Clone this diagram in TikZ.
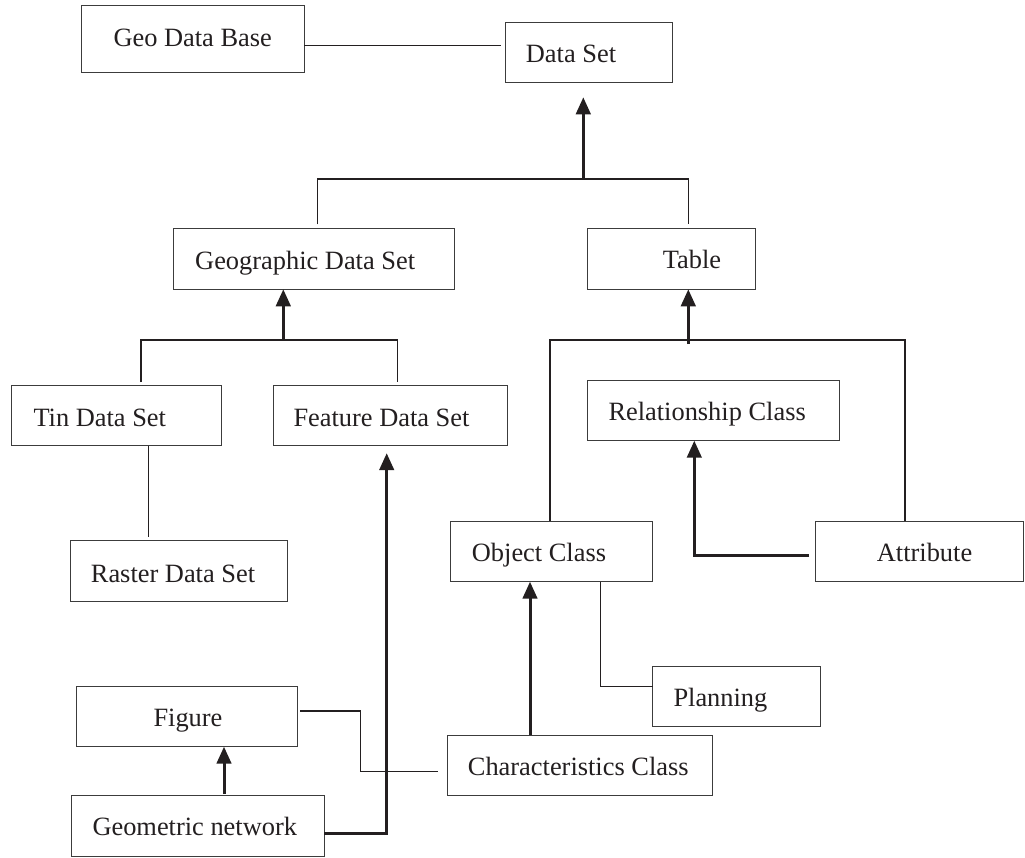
\documentclass[tikz,border=0pt]{standalone}
\usepackage{fontspec}
\setmainfont{Liberation Serif}
\usetikzlibrary{arrows.meta,calc,fit}
\definecolor{ink}{RGB}{35,31,32}
\definecolor{edgec}{RGB}{60,60,60}
\newcommand{\mybox}[5]{\node[box,fit={(#2,#3)(#4,#5)}] (#1) {};}
\begin{document}
\begin{tikzpicture}[x=1pt,y=-1pt,
  box/.style={draw=edgec,line width=1pt,inner sep=0pt,outer sep=0pt,rectangle},
  lbl/.style={anchor=base west,inner sep=0pt,text=ink,font=\fontsize{26.4}{30}\selectfont},
  thinln/.style={draw=ink,line width=1.2pt,line join=miter},
  thickln/.style={draw=ink,line width=3pt,line join=miter},
  arr/.style={thickln,-{Triangle[length=17pt,width=14.5pt]}}]
\useasboundingbox (0,0) rectangle (1025,857);
\fill[white] (0,0) rectangle (1025,857);
% boxes
\mybox{gdb}{81}{5.7}{304.3}{72.3}
\mybox{ds}{505}{22}{672.7}{82.3}
\mybox{geo}{173.3}{228.3}{454}{289.3}
\mybox{tab}{587.3}{228.3}{755.3}{289.3}
\mybox{tin}{11.7}{385}{221.7}{445.7}
\mybox{feat}{273.3}{385}{507.3}{445.7}
\mybox{ras}{70}{540.7}{287}{601.5}
\mybox{rel}{587.3}{380.7}{839}{440.7}
\mybox{obj}{450.7}{521}{652.7}{581.7}
\mybox{att}{815.7}{521}{1023}{581.7}
\mybox{plan}{652.7}{666.7}{820}{726.7}
\mybox{fig}{76.7}{686.7}{297.7}{746.7}
\mybox{cc}{447}{735}{712.7}{795.7}
\mybox{gn}{71.7}{795.7}{324.3}{856}
% labels
\node[lbl] (gdbt) at (113.3,46.7) {Geo Data Base};
\node[lbl] (dst) at (525.7,62.7) {Data Set};
\node[lbl] (geot) at (195,269.3) {Geographic Data Set};
\node[lbl] (tabt) at (662.7,268.3) {Table};
\node[lbl] (tint) at (33.3,426) {Tin Data Set};
\node[lbl] (featt) at (293.3,426) {Feature Data Set};
\node[lbl] (rast) at (90.7,582.3) {Raster Data Set};
\node[lbl] (relt) at (608.3,420.7) {Relationship Class};
\node[lbl] (objt) at (471.7,561.7) {Object Class};
\node[lbl] (attt) at (876.7,561.7) {Attribute};
\node[lbl] (plant) at (673.3,706.7) {Planning};
\node[lbl] (ccT) at (467.7,775) {Characteristics Class};
\node[lbl] (figt) at (153.3,726.7) {Figure};
\node[lbl] (gnt) at (92.3,835) {Geometric network};
% Geo Data Base -- Data Set
\coordinate (c1) at (500.7,45.7);
\draw[thinln] (gdb.east |- c1) -- (c1);
% tree under Data Set
\coordinate (j1) at (583.3,179);
\coordinate (j1l) at (317.7,179);
\coordinate (j1r) at (688.3,179);
\draw[thinln] ($(geo.north -| j1l)+(0,-4)$) -- (j1l) -- (j1r) -- ($(tab.north -| j1r)+(0,-4)$);
\draw[arr] (j1) -- ($(ds.south -| j1)+(0,15)$);
% tree under Geographic Data Set
\coordinate (j2) at (283.3,340);
\coordinate (j2l) at (141,340);
\coordinate (j2r) at (397.7,340);
\draw[thinln] ($(tin.north -| j2l)+(0,-3)$) -- (j2l) -- (j2r) -- ($(feat.north -| j2r)+(0,-3)$);
\draw[arr] (j2) -- (geo.south -| j2);
% tree under Table
\coordinate (j3) at (688.3,340);
\coordinate (j3l) at (550,340);
\coordinate (j3r) at (905,340);
\draw[thinln] (obj.north -| j3l) -- (j3l) -- (j3r) -- (att.north -| j3r);
\draw[arr] ($(j3)+(0,4)$) -- (tab.south -| j3);
% Tin -- Raster
\coordinate (xtr) at (148.3,500);
\draw[thinln] (tin.south -| xtr) -- ($(ras.north -| xtr)+(0,-4)$);
% Geometric network -> Feature Data Set
\coordinate (e1) at (386.7,833.3);
\draw[arr] (gn.east |- e1) -- (e1) -- ($(feat.south -| e1)+(0,7.5)$);
% Geometric network -> Figure
\coordinate (xg) at (224,800);
\draw[arr] ($(gn.north -| xg)+(0,-1.5)$) -- (fig.south -| xg);
% Figure -- Characteristics Class
\coordinate (f1) at (360.7,711);
\coordinate (f2) at (360.7,771.3);
\draw[thinln] ($(fig.east |- f1)+(2.3,0)$) -- (f1) -- (f2) -- ($(cc.west |- f2)+(-9.3,0)$);
% Characteristics Class -> Object Class
\coordinate (xo) at (530,700);
\draw[arr] (cc.north -| xo) -- (obj.south -| xo);
% Object Class -- Planning
\coordinate (p1) at (600.7,686.7);
\draw[thinln] (obj.south -| p1) -- (p1) -- (plan.west |- p1);
% Attribute -> Relationship Class
\coordinate (a1) at (694.3,555);
\draw[arr] ($(att.west |- a1)+(-6.7,0)$) -- (a1) -- (rel.south -| a1);
\end{tikzpicture}
\end{document}
